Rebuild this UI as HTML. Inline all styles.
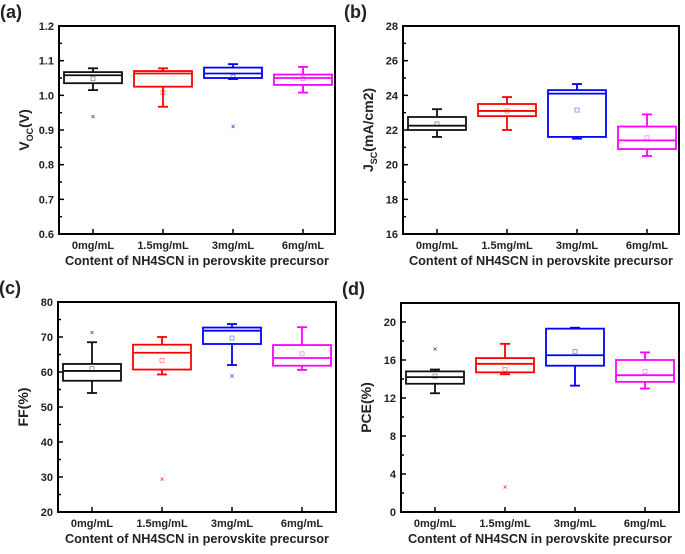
<!DOCTYPE html>
<html><head><meta charset="utf-8"><style>
body{margin:0;background:#fff;}
svg text{font-family:"Liberation Sans",Arial,sans-serif;font-weight:bold;fill:#222;}
</style></head><body>
<svg id="s" width="685" height="549" xmlns="http://www.w3.org/2000/svg"></svg>
<script>
const S=document.getElementById('s');let h='';
const cols=['#111','#f00','#00f','#f0f'];
const cats=['0mg/mL','1.5mg/mL','3mg/mL','6mg/mL'];
function panel(p){
 const {L,R,T,B,min,max,ticks,minor,lab,ytitle,data,fmt}=p;
 const y=v=>B-(v-min)/(max-min)*(B-T);
 h+=`<text x="${L-59}" y="${T-8}" font-size="18">${lab}</text>`;
 ticks.forEach(v=>{h+=`<line x1="${L}" x2="${L+5}" y1="${y(v)}" y2="${y(v)}" stroke="#000" stroke-width="1.5"/><text x="${L-5}" y="${y(v)+4}" font-size="11" text-anchor="end">${fmt(v)}</text>`;});
 minor.forEach(v=>{h+=`<line x1="${L}" x2="${L+3}" y1="${y(v)}" y2="${y(v)}" stroke="#000" stroke-width="1.5"/>`;});
 data.forEach((d,i)=>{
  const cx=L+34+i*70,c=cols[i],w=29;
  h+=`<line x1="${cx}" x2="${cx}" y1="${B}" y2="${B-5}" stroke="#000" stroke-width="1.5"/>`;
  h+=`<text x="${cx}" y="${B+15}" font-size="11" text-anchor="middle">${cats[i]}</text>`;
  const [lo,q1,md,q3,hi,mn,out]=d;
  h+=`<g stroke="${c}" stroke-width="1.8" fill="none">
  <line x1="${cx}" x2="${cx}" y1="${y(hi)}" y2="${y(q3)}"/><line x1="${cx}" x2="${cx}" y1="${y(q1)}" y2="${y(lo)}"/>
  <line x1="${cx-5}" x2="${cx+5}" y1="${y(hi)}" y2="${y(hi)}"/><line x1="${cx-5}" x2="${cx+5}" y1="${y(lo)}" y2="${y(lo)}"/>
  <rect x="${cx-w}" y="${y(q3)}" width="${2*w}" height="${y(q1)-y(q3)}"/>
  <line x1="${cx-w}" x2="${cx+w}" y1="${y(md)}" y2="${y(md)}"/></g>
  <rect x="${cx-2}" y="${y(mn)-2}" width="4" height="4" fill="none" stroke="${c}" stroke-width="0.8" opacity="0.5"/>`;
  if(out!=null)h+=`<text x="${cx}" y="${y(out)+3}" font-size="7" font-weight="normal" text-anchor="middle" fill="${c}" opacity="0.7" style="fill:${c}">×</text>`;
 });
 h+=`<rect x="${L}" y="${T}" width="${R-L}" height="${B-T}" fill="none" stroke="#000" stroke-width="2"/>`;
 h+=`<text x="${(L+R)/2}" y="${B+31}" font-size="13" text-anchor="middle" textLength="264" lengthAdjust="spacingAndGlyphs">Content of NH4SCN in perovskite precursor</text>`;
 h+=`<text transform="translate(${L-30},${(T+B)/2}) rotate(-90)" font-size="14" text-anchor="middle">${ytitle}</text>`;
}
const f1=v=>v.toFixed(1),f0=v=>String(v);
panel({L:59,R:335,T:26,B:234,min:0.6,max:1.2,ticks:[0.6,0.7,0.8,0.9,1.0,1.1,1.2],minor:[0.65,0.75,0.85,0.95,1.05,1.15],lab:'(a)',ytitle:'V<tspan font-size="9" dy="4">OC</tspan><tspan dy="-4">(V)</tspan>',fmt:f1,
 data:[[1.015,1.035,1.058,1.067,1.078,1.048,0.94],[0.967,1.025,1.063,1.07,1.078,1.008,null],[1.047,1.05,1.063,1.08,1.09,1.053,0.912],[1.008,1.03,1.05,1.06,1.082,1.048,null]]});
panel({L:403,R:679,T:26,B:234,min:16,max:28,ticks:[16,18,20,22,24,26,28],minor:[17,19,21,23,25,27],lab:'(b)',ytitle:'J<tspan font-size="9" dy="4">SC</tspan><tspan dy="-4">(mA/cm2)</tspan>',fmt:f0,
 data:[[21.6,22.0,22.25,22.75,23.2,22.35,null],[22.0,22.8,23.1,23.5,23.9,23.1,null],[21.5,21.6,24.1,24.3,24.65,23.15,null],[20.5,20.9,21.4,22.2,22.9,21.55,null]]});
panel({L:58,R:336,T:302,B:512,min:20,max:80,ticks:[20,30,40,50,60,70,80],minor:[25,35,45,55,65,75],lab:'(c)',ytitle:'FF(%)',fmt:f0,
 data:[[54,57.5,60.3,62.3,68.5,61,71.5],[59.3,60.7,65.5,67.8,70,63.3,29.6],[62,68,71.8,72.7,73.7,69.7,59],[60.6,61.8,64,67.7,72.8,65.2,null]]});
panel({L:401,R:679,T:303,B:512,min:0,max:22,ticks:[0,4,8,12,16,20],minor:[2,6,10,14,18],lab:'(d)',ytitle:'PCE(%)',fmt:f0,
 data:[[12.5,13.5,14.2,14.8,15.0,14.3,17.2],[14.5,14.7,15.6,16.2,17.7,15.0,2.7],[13.3,15.4,16.5,19.3,19.4,16.9,null],[13.0,13.7,14.4,16.0,16.8,14.8,null]]});
S.innerHTML=h;
</script>
</body></html>
